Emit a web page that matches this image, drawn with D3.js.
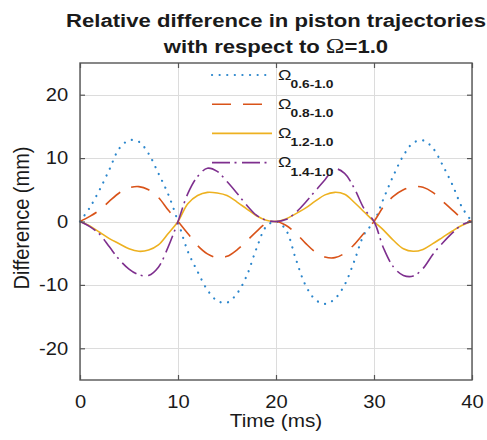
<!DOCTYPE html>
<html>
<head>
<meta charset="utf-8">
<title>Relative difference in piston trajectories</title>
<script src="https://d3js.org/d3.v7.min.js"></script>
<style>
    body { margin: 0; background: #fff; }
    text { font-family: "Liberation Sans", Arial, sans-serif; fill: #1a1a1a; }
    .grid line { stroke: #dcdcdc; stroke-width: 1; shape-rendering: crispEdges; }
    .grid path { stroke: none; }
    .axis path { stroke: none; }
    .axis line { stroke: #555; stroke-width: 1.2; }
</style>
</head>
<body>
<script>
    // Data (time in ms, difference in mm)
    const time = [0, 1, 2, 3, 4, 5, 6, 7, 8, 9, 10, 11, 12, 13, 14, 15, 16, 17, 18, 19, 20,
        21, 22, 23, 24, 25, 26, 27, 28, 29, 30, 31, 32, 33, 34, 35, 36, 37, 38, 39, 40];

    const omega06 = [0, 2.2, 5.0, 8.2, 11.5, 12.8, 12.6, 10.7, 7.6, 4.3, 0,
        -4.7, -7.9, -10.8, -12.5, -12.8, -11.4, -8.6, -4.3, -0.8, 0,
        -1.3, -5.8, -10.0, -12.3, -13.0, -12.2, -10.0, -6.2, -2.0, 0,
        3.7, 7.3, 10.4, 12.4, 12.8, 11.6, 8.9, 5.8, 2.2, 0];

    const omega08 = [0, 0.8, 1.8, 3.2, 4.5, 5.3, 5.5, 5.0, 3.8, 1.8, 0,
        -1.9, -3.8, -5.1, -5.7, -5.5, -4.5, -3.1, -1.6, -0.3, 0,
        -0.6, -1.8, -3.4, -4.8, -5.6, -5.7, -5.0, -3.6, -1.8, 0,
        2.4, 4.0, 5.0, 5.5, 5.4, 4.6, 3.2, 1.8, 0.5, 0];

    const omega12 = [0, -0.7, -1.7, -2.7, -3.5, -4.3, -4.7, -4.5, -3.7, -1.9, 0,
        2.8, 4.1, 4.6, 4.5, 4.1, 3.1, 2.0, 0.9, 0.2, 0,
        0.4, 1.2, 2.1, 3.2, 4.2, 4.6, 4.3, 3.0, 1.5, 0,
        -1.4, -3.0, -4.3, -4.7, -4.4, -3.5, -2.5, -1.5, -0.6, 0];

    const omega14 = [0, -0.8, -2.0, -4.0, -6.0, -7.5, -8.4, -8.5, -7.2, -4.0, 0,
        4.4, 7.1, 8.4, 7.9, 6.3, 4.5, 2.6, 1.0, 0.2, 0,
        0.3, 1.4, 3.0, 4.8, 6.6, 8.3, 7.6, 5.2, 2.0, 0,
        -4.3, -7.2, -8.5, -8.6, -7.4, -5.2, -3.4, -1.8, -0.5, 0];

    const seriesLabels = ["0.6-1.0", "0.8-1.0", "1.2-1.0", "1.4-1.0"];
    const xTicks = [0, 10, 20, 30, 40];
    const yTicks = [-20, -10, 0, 10, 20];

    const width = 487;
    const height = 440;
    const margin = { top: 63, right: 15, bottom: 60, left: 80 };
    const w = width - margin.left - margin.right;
    const h = height - margin.top - margin.bottom;

    const series = [
        { name: seriesLabels[0], values: omega06, color: "#2b86cc", dash: "0.1,7.5", cap: "round", sw: 2.2 },
        { name: seriesLabels[1], values: omega08, color: "#d95319", dash: "19,12", cap: "butt", sw: 1.6 },
        { name: seriesLabels[2], values: omega12, color: "#edb120", dash: null, cap: "butt", sw: 1.6 },
        { name: seriesLabels[3], values: omega14, color: "#7e2f8e", dash: "18,4.5,2,5.5", cap: "butt", sw: 1.6 }
    ];

    const svg = d3.select("body").append("svg")
        .attr("width", width)
        .attr("height", height);

    const g = svg.append("g")
        .attr("transform", `translate(${margin.left},${margin.top})`);

    const x = d3.scaleLinear().domain([0, 40]).range([0, w]);
    const y = d3.scaleLinear().domain([-25, 25]).range([h, 0]);

    // gridlines
    g.append("g")
        .attr("class", "grid")
        .attr("transform", `translate(0,${h})`)
        .call(d3.axisBottom(x).tickValues(xTicks).tickSize(-h).tickFormat(""));
    g.append("g")
        .attr("class", "grid")
        .call(d3.axisLeft(y).tickValues(yTicks).tickSize(-w).tickFormat(""));

    // curves
    const line = d3.line()
        .x((d, i) => x(time[i]))
        .y(d => y(d))
        .curve(d3.curveCatmullRom.alpha(0.5));

    series.forEach(s => {
        g.append("path")
            .datum(s.values)
            .attr("fill", "none")
            .attr("stroke", s.color)
            .attr("stroke-width", s.sw)
            .attr("stroke-linecap", s.cap)
            .attr("stroke-dasharray", s.dash)
            .attr("d", line);
    });

    // axes, ticks pointing inward
    const xAxis = g.append("g")
        .attr("class", "axis")
        .attr("transform", `translate(0,${h})`)
        .call(d3.axisBottom(x).tickValues(xTicks).tickSizeInner(-5).tickSizeOuter(0)
            .tickPadding(15).tickFormat(d => String(d)));
    xAxis.selectAll("text")
        .attr("font-size", 18)
        .attr("transform", "scale(1.12,1)");

    const yAxis = g.append("g")
        .attr("class", "axis")
        .call(d3.axisLeft(y).tickValues(yTicks).tickSizeInner(-5).tickSizeOuter(0)
            .tickPadding(10.5).tickFormat(d => String(d)));
    yAxis.selectAll("text")
        .attr("font-size", 18)
        .attr("transform", "scale(1.12,1)");

    g.append("g")
        .attr("class", "axis")
        .call(d3.axisTop(x).tickValues(xTicks).tickSizeInner(-5).tickSizeOuter(0).tickFormat(""));
    g.append("g")
        .attr("class", "axis")
        .attr("transform", `translate(${w},0)`)
        .call(d3.axisRight(y).tickValues(yTicks).tickSizeInner(-5).tickSizeOuter(0).tickFormat(""));

    g.append("rect")
        .attr("width", w)
        .attr("height", h)
        .attr("fill", "none")
        .attr("stroke", "#555")
        .attr("stroke-width", 1.4);

    // axis labels
    svg.append("text")
        .attr("transform", `translate(${margin.left + w / 2},427) scale(1.12,1)`)
        .attr("text-anchor", "middle")
        .attr("font-size", 18.5)
        .text("Time (ms)");

    svg.append("text")
        .attr("transform", `translate(29,218) scale(1.12,1) rotate(-90)`)
        .attr("text-anchor", "middle")
        .attr("font-size", 20)
        .text("Difference (mm)");

    // title, stretched wide like the original (first line nearly fills the width)
    const title = svg.append("g")
        .attr("transform", `translate(${margin.left + w / 2},0)`);
    const t1 = title.append("text")
        .attr("y", 27)
        .attr("text-anchor", "middle")
        .attr("font-size", 17.6)
        .attr("font-weight", "bold")
        .text("Relative difference in piston trajectories");
    const t2 = title.append("text")
        .attr("y", 53)
        .attr("text-anchor", "middle")
        .attr("font-size", 17.6)
        .attr("font-weight", "bold");
    t2.append("tspan").text("with respect to ");
    t2.append("tspan")
        .attr("font-family", "'Liberation Serif', 'Times New Roman', serif")
        .attr("font-weight", "normal")
        .attr("font-size", 20)
        .text("Ω");
    t2.append("tspan").text("=1.0");
    const sx = 420 / t1.node().getComputedTextLength();
    title.attr("transform", `translate(${margin.left + w / 2},0) scale(${sx},1)`);

    // legend (no box)
    const legend = svg.append("g")
        .attr("transform", "translate(212,75)");
    const rowGap = 29.2;
    series.forEach((s, i) => {
        const row = legend.append("g")
            .attr("transform", `translate(0,${i * rowGap})`);
        row.append("line")
            .attr("x1", 0)
            .attr("x2", 60)
            .attr("stroke", s.color)
            .attr("stroke-width", s.sw)
            .attr("stroke-linecap", s.cap)
            .attr("stroke-dasharray", s.dash);
        const lab = row.append("g")
            .attr("transform", "translate(66,0) scale(1.2,1)");
        lab.append("text")
            .attr("y", 4.5)
            .attr("font-family", "'Liberation Serif', 'Times New Roman', serif")
            .attr("font-size", 15)
            .attr("font-size", 15)
            .text("Ω");
        lab.append("text")
            .attr("x", 10.5)
            .attr("y", 13)
            .attr("font-size", 11.5)
            .attr("font-weight", "bold")
            .text(s.name);
    });
</script>
</body>
</html>
